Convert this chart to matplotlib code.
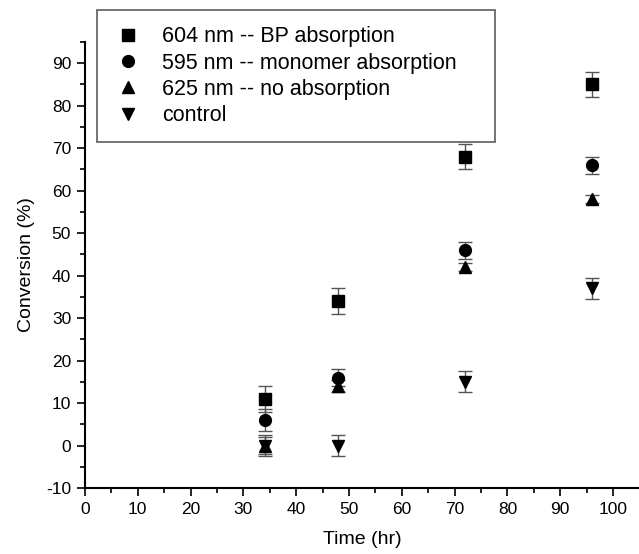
import matplotlib
matplotlib.use("Agg")
import matplotlib.pyplot as plt
from matplotlib.ticker import MultipleLocator

plt.rcParams['font.family'] = ['Liberation Sans', 'DejaVu Sans']
plt.rcParams['axes.unicode_minus'] = False

time_hr = [34, 48, 72, 96]
labels = ["604 nm -- BP absorption", "595 nm -- monomer absorption",
          "625 nm -- no absorption", "control"]
bp_604 = [11, 34, 68, 85]
bp_604_err = [3, 3, 3, 3]
mono_595 = [6, 16, 46, 66]
mono_595_err = [2.5, 2, 2, 2]
none_625 = [0, 14, 42, 58]
none_625_err = [2, 1.5, 1, 1]
control = [0, 0, 15, 37]
control_err = [2.5, 2.5, 2.5, 2.5]

W, H = 639, 554
fig = plt.figure(figsize=(W / 100, H / 100), dpi=100)
left, right, top, bottom = 85, 639, 42, 488
ax = fig.add_axes([left / W, 1 - bottom / H, (right - left) / W, (bottom - top) / H])

series = [(bp_604, bp_604_err, 's', 8),
          (mono_595, mono_595_err, 'o', 8.5),
          (none_625, none_625_err, '^', 9),
          (control, control_err, 'v', 9)]
handles = []
for (vals, errs, mk, ms), lab in zip(series, labels):
    ax.errorbar(time_hr, vals, yerr=errs, fmt='none', ecolor='#555555',
                elinewidth=1.0, capsize=5, capthick=1.0, zorder=2)
    h, = ax.plot(time_hr, vals, linestyle='none', marker=mk, ms=ms,
                 color='black', label=lab, zorder=3)
    handles.append(h)

ax.set_xlim(0, 104.9)
ax.set_ylim(-10, 95)
ax.xaxis.set_major_locator(MultipleLocator(10))
ax.xaxis.set_minor_locator(MultipleLocator(5))
ax.yaxis.set_major_locator(MultipleLocator(10))
ax.yaxis.set_minor_locator(MultipleLocator(5))
ax.tick_params(which='major', direction='out', length=6, width=1.2,
               labelsize=12.5, pad=4)
ax.tick_params(which='minor', direction='out', length=3.5, width=1.2)
for s in ['top', 'right']:
    ax.spines[s].set_visible(False)
for s in ['left', 'bottom']:
    ax.spines[s].set_linewidth(1.5)

ax.set_xlabel("Time (hr)", fontsize=14, labelpad=10)
ax.set_ylabel("Conversion (%)", fontsize=14, labelpad=8)

leg = fig.legend(handles=handles, labels=labels, loc='upper left',
                 bbox_to_anchor=(97 / W, 1 - 10 / H - 0.01, (495 - 97) / W, 0.01),
                 mode='expand', fontsize=15.5,
                 frameon=True, fancybox=False, edgecolor='#333333',
                 handlelength=1.4, handletextpad=0.88, labelspacing=0.25,
                 borderpad=0.75, borderaxespad=0, numpoints=1)
leg.get_frame().set_linewidth(1.2)

fig.savefig("out.png", dpi=100)
